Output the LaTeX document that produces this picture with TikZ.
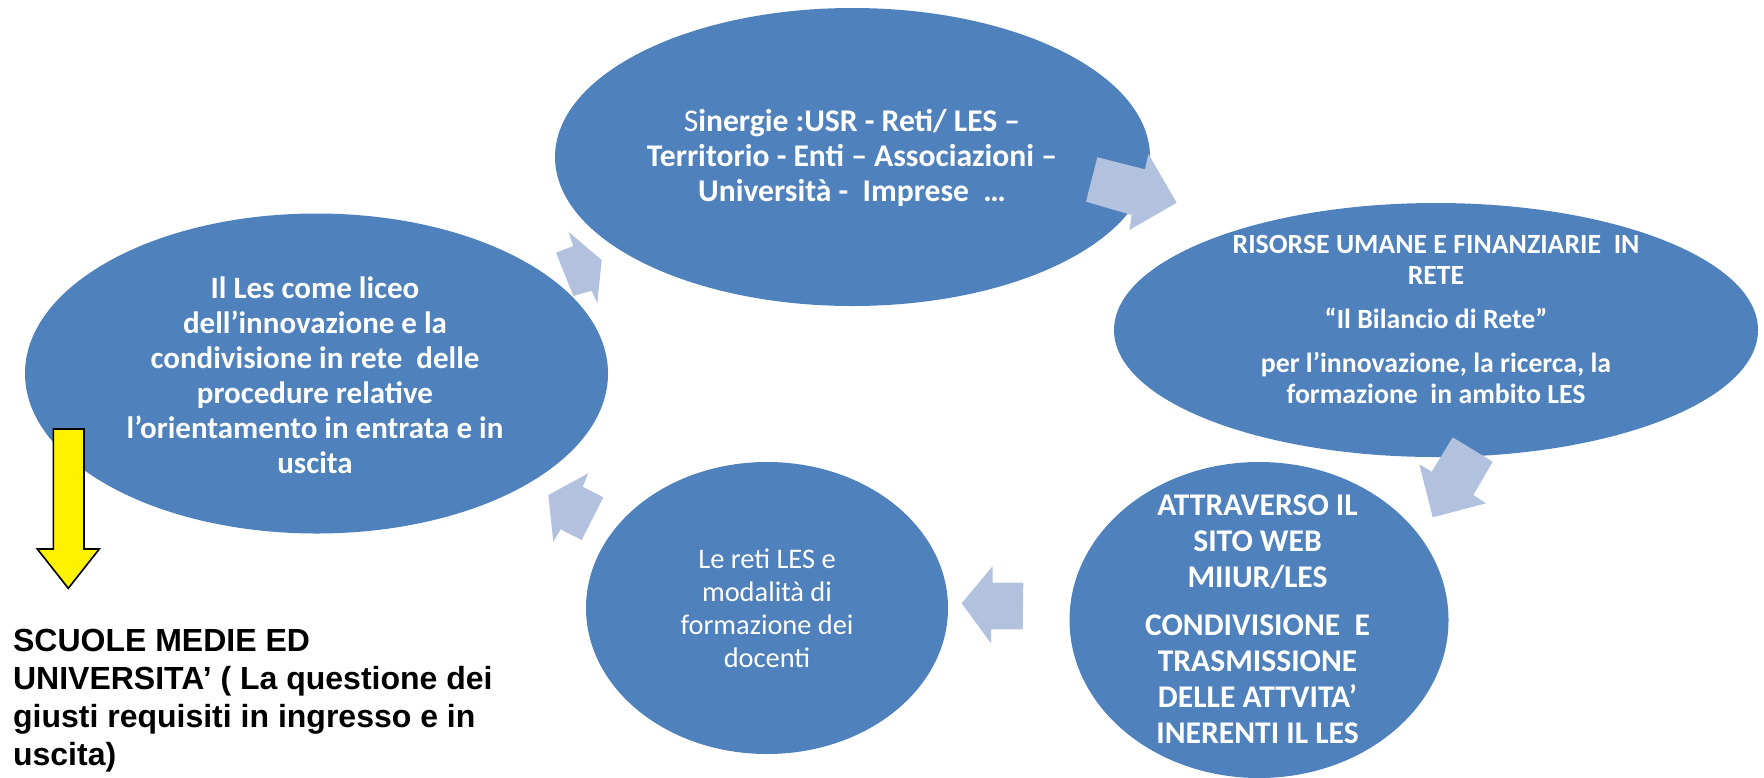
\documentclass[tikz,border=0pt]{standalone}
\usepackage{fontspec}
\setmainfont{Carlito}
\newfontfamily\arialfont{Liberation Sans}
\usetikzlibrary{shapes.geometric}
\definecolor{ellblue}{RGB}{79,129,189}
\definecolor{arrblue}{RGB}{178,193,222}
\tikzset{
  ell/.style={ellipse, fill=ellblue, draw=none, inner sep=0pt},
  blockarrow/.style={fill=arrblue, draw=none},
  etext/.style={text=white, align=center, inner sep=0pt, anchor=base, font=\bfseries},
  rtext/.style={etext, font=\bfseries\fontsize{13.9pt}{15.5pt}\selectfont},
  yarrow/.style={fill=yellow, draw=black, line width=0.8pt, line join=miter}
}
\begin{document}
\begin{tikzpicture}[x=0.5pt, y=-0.5pt]
\useasboundingbox (0,0) rectangle (1764,777);
% ellipses
\node[ell, minimum width=297.5pt, minimum height=149pt] (top) at (852.5,157) {};
\node[ell, minimum width=291.5pt, minimum height=160pt] (left) at (316.5,373.5) {};
\node[ell, minimum width=322pt, minimum height=127pt] (right) at (1436,330) {};
\node[ell, minimum width=189.5pt, minimum height=158pt] (bright) at (1259,620) {};
\node[ell, minimum width=181pt, minimum height=146pt] (bmid) at (767,608) {};
% texts (anchor base = baseline of last line)
\node[etext, font=\bfseries\fontsize{15.8pt}{17.5pt}\selectfont] (ttop) at (852,201.7)
  {{\mdseries S}inergie :USR - Reti/ LES –\\Territorio - Enti – Associazioni –\\Università -\ \ Imprese\ \ …};
\node[etext, font=\bfseries\fontsize{15.5pt}{17.5pt}\selectfont] (tleft) at (315,473.3)
  {Il Les come liceo\\dell’innovazione e la\\condivisione in rete\ \ delle\\procedure relative\\l’orientamento in entrata e in\\uscita};
\node[rtext] (tright1) at (1436,284.5) {RISORSE UMANE E FINANZIARIE\ \ IN\\RETE};
\node[rtext] (tright2) at (1436,328) {“Il Bilancio di Rete”};
\node[rtext] (tright3) at (1436,403) {per l’innovazione, la ricerca, la\\formazione\ \ in ambito LES};
\node[etext, font=\bfseries\fontsize{15.8pt}{18pt}\selectfont] (tbright) at (1257.5,743.3)
  {ATTRAVERSO IL\\SITO WEB\\MIIUR/LES\\[5.7pt]CONDIVISIONE\ \ E\\TRASMISSIONE\\DELLE ATTVITA’\\INERENTI IL LES};
\node[etext, font=\fontsize{14.2pt}{16.5pt}\selectfont] (tbmid) at (767,667.3)
  {Le reti LES e\\modalità di\\formazione dei\\docenti};
% block arrows
\path[blockarrow] (601.7,260) -- (568.3,231.7) -- (573.3,246) -- (556,252.7) -- (573.3,296) -- (591.7,290.7) -- (597.3,303.3) -- cycle;
\path[blockarrow] (1176.7,202.7) -- (1148.3,154) -- (1145,169.3) -- (1097.3,157.3) -- (1086,201.7) -- (1131.7,215) -- (1129.3,230) -- cycle;
\path[blockarrow] (1432.7,517.3) -- (1486,503.3) -- (1473.3,495) -- (1492.7,461.7) -- (1452.7,437.3) -- (1431.7,471.7) -- (1419.3,464.3) -- cycle;
\path[blockarrow] (961.7,603.3) -- (992.7,566) -- (992.7,582.7) -- (1023.3,582.7) -- (1022.7,629.3) -- (991,629.3) -- (991,643.3) -- cycle;
\path[blockarrow] (548.3,495) -- (588.3,473.3) -- (582.7,486.7) -- (603.3,497.3) -- (581.7,540) -- (560.7,529.3) -- (553.3,541.7) -- cycle;
% yellow arrow
\coordinate (ytip) at (68.3,588.3);
\draw[yarrow] (53.3,429) -- (84,429) -- (84,549) -- (99.3,549) -- (ytip) -- (37.3,549) -- (53.3,549) -- cycle;
% bottom-left text
\node[text=black, align=left, inner sep=0pt, anchor=base west, font=\arialfont\bfseries\fontsize{16pt}{18.9pt}\selectfont] (tbl) at (12.7,765)
  {SCUOLE MEDIE ED\\UNIVERSITA’ ( La questione dei\\giusti requisiti in ingresso e in\\uscita)};
\end{tikzpicture}
\end{document}
